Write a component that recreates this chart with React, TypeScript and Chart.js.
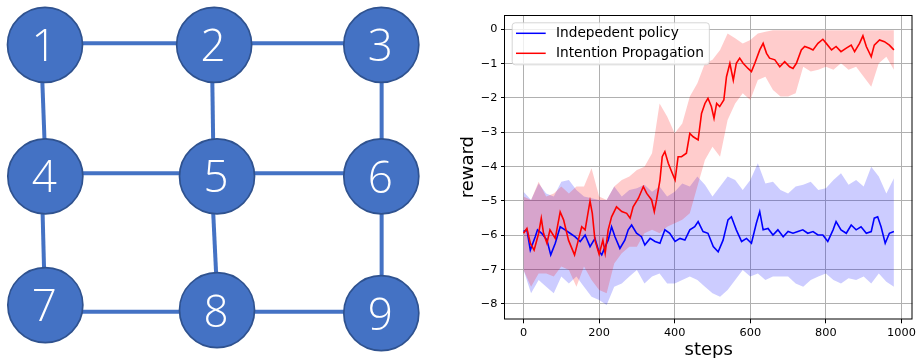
import React, { useEffect, useRef } from "react";
import { Chart, registerables } from "chart.js";

Chart.register(...registerables);

// ---------------- Left: grid graph ----------------
const nodeLabels = ["1", "2", "3", "4", "5", "6", "7", "8", "9"];
const nodeCol = [0, 1.006, 2, 0.002, 1.023, 2, 0.002, 1.023, 2];
const nodeRow = [0, 0, 0, 1, 1, 1, 1.979, 2.017, 2.04];
// edges: 1-2, 2-3, 1-4, 2-5, 3-6, 4-5, 5-6, 4-7, 5-8, 6-9, 7-8, 8-9
const edgeX1 = [0, 1.006, -0.024, 0.992, 2.002, 0, 1.023, -0.02, 0.99, 2.002, 0, 1.023];
const edgeY1 = [-0.011, -0.011, 0, 0, 0, 0.977, 0.977, 1, 1, 1, 2.03, 2.03];
const edgeX2 = [1.006, 2, 0.005, 1.003, 2.002, 1.023, 2, 0, 1.028, 2.002, 1.023, 2];
const edgeY2 = [-0.011, -0.011, 1, 1, 1, 0.977, 0.977, 1.979, 2.017, 2.04, 2.03, 2.03];

// ---------------- Right: reward curves ----------------
const seriesLabels = ["Indepedent policy", "Intention Propagation"];
const xTickValues = [0, 200, 400, 600, 800, 1000];
const xTickLabels = ["0", "200", "400", "600", "800", "1000"];
const yTickValues = [0, -1, -2, -3, -4, -5, -6, -7, -8];
const yTickLabels = ["0", "\u22121", "\u22122", "\u22123", "\u22124", "\u22125", "\u22126", "\u22127", "\u22128"];

const redSteps = [
  0, 9, 18, 28, 40, 47, 53, 62, 70, 84,
  97, 106, 119, 135, 145, 154, 163, 176, 182, 189,
  200, 210, 216, 224, 233, 246, 260, 273, 282, 290,
  304, 317, 326, 339, 346, 352, 361, 367, 374, 383,
  392, 401, 409, 418, 431, 440, 449, 462, 471, 480,
  488, 497, 504, 511, 519, 530, 537, 546, 555, 563,
  572, 581, 594, 603, 612, 625, 634, 643, 651, 665,
  678, 691, 704, 713, 722, 735, 744, 757, 766, 779,
  792, 801, 815, 827, 840, 854, 867, 876, 889, 898,
  907, 920, 928, 942, 955, 968, 980,
];
const redMean = [
  -5.94, -5.80, -6.23, -6.43, -5.94, -5.50, -5.94, -6.23, -5.84, -6.09,
  -5.32, -5.55, -6.14, -6.57, -6.14, -5.75, -5.84, -5.00, -5.36, -6.14,
  -6.55, -6.14, -6.52, -5.84, -5.46, -5.17, -5.31, -5.36, -5.50, -5.17,
  -4.92, -4.58, -4.78, -4.97, -5.31, -4.97, -4.39, -3.71, -3.56, -3.90,
  -4.15, -4.39, -3.71, -3.71, -3.61, -3.03, -3.13, -3.22, -2.45, -2.16,
  -2.01, -2.25, -2.59, -2.16, -2.25, -2.06, -1.38, -0.99, -1.48, -0.99,
  -0.84, -0.99, -1.14, -1.23, -0.99, -0.60, -0.41, -0.70, -0.84, -0.89,
  -1.09, -0.94, -1.09, -1.14, -0.99, -0.60, -0.50, -0.55, -0.60, -0.41,
  -0.29, -0.41, -0.60, -0.50, -0.65, -0.55, -0.46, -0.65, -0.41, -0.19,
  -0.50, -0.80, -0.46, -0.31, -0.36, -0.46, -0.60,
];

const blueSteps = [
  0, 9, 18, 31, 37, 48, 62, 72, 84, 97,
  110, 123, 136, 150, 163, 176, 189, 198, 207, 216,
  224, 233, 242, 255, 268, 277, 286, 299, 312, 321,
  335, 348, 361, 374, 387, 401, 414, 427, 440, 453,
  462, 475, 488, 502, 515, 528, 541, 550, 563, 577,
  590, 603, 616, 625, 634, 647, 660, 673, 687, 700,
  713, 726, 739, 752, 766, 779, 792, 805, 819, 827,
  840, 854, 867, 880, 893, 907, 920, 928, 937, 946,
  957, 968, 980,
];
const blueMean = [
  -5.89, -5.84, -6.43, -6.04, -5.84, -5.94, -6.14, -6.57, -6.23, -5.75,
  -5.84, -5.94, -6.04, -6.18, -5.99, -6.33, -6.09, -6.43, -6.57, -6.33,
  -6.14, -5.75, -6.04, -6.38, -6.14, -5.84, -5.70, -5.94, -6.04, -6.28,
  -6.09, -6.18, -6.23, -5.84, -5.94, -6.18, -6.09, -6.14, -5.84, -5.75,
  -5.60, -5.89, -5.94, -6.33, -6.48, -6.14, -5.55, -5.46, -5.84, -6.18,
  -6.09, -6.23, -5.65, -5.31, -5.84, -5.80, -5.99, -5.84, -6.04, -5.89,
  -5.94, -5.89, -5.84, -5.94, -5.89, -5.99, -5.99, -6.18, -5.84, -5.60,
  -5.84, -5.94, -5.70, -5.84, -5.75, -5.94, -5.89, -5.50, -5.46, -5.75,
  -6.23, -5.94, -5.89,
];

const bandSteps = [
  0, 20, 40, 60, 80, 100, 120, 140, 160, 180,
  200, 220, 240, 260, 280, 300, 320, 340, 360, 380,
  400, 420, 440, 460, 480, 500, 520, 540, 560, 580,
  600, 620, 640, 660, 680, 700, 720, 740, 760, 780,
  800, 820, 840, 860, 880, 900, 920, 940, 960, 980,
];
const blueUpper = [
  -4.73, -4.97, -4.49, -4.78, -4.87, -4.44, -4.39, -4.68, -4.87, -4.92,
  -4.97, -4.97, -4.58, -4.87, -4.68, -4.63, -4.53, -4.73, -4.58, -4.87,
  -4.73, -4.49, -4.58, -4.29, -4.53, -4.87, -4.58, -4.29, -4.39, -4.68,
  -4.39, -3.90, -4.49, -4.44, -4.68, -4.78, -4.58, -4.53, -4.44, -4.68,
  -4.63, -4.39, -4.19, -4.53, -4.39, -4.58, -4.00, -4.29, -4.78, -4.34,
];
const blueLower = [
  -7.01, -7.69, -7.30, -7.50, -7.69, -7.20, -7.40, -7.20, -7.50, -7.79,
  -7.88, -8.03, -7.50, -7.40, -7.20, -7.01, -7.40, -7.20, -7.11, -7.40,
  -7.40, -7.30, -7.20, -7.30, -7.50, -7.69, -7.79, -7.59, -7.30, -7.01,
  -7.20, -7.11, -7.30, -7.20, -7.20, -7.20, -7.40, -7.50, -7.30, -7.20,
  -7.11, -7.30, -7.40, -7.25, -7.30, -7.20, -7.40, -7.11, -7.35, -7.50,
];
const redUpper = [
  -4.87, -4.97, -4.44, -4.87, -4.78, -4.58, -4.78, -4.58, -4.58, -4.05,
  -4.87, -4.97, -4.58, -4.39, -4.29, -4.10, -4.00, -3.61, -2.16, -2.54,
  -3.03, -2.74, -1.96, -1.57, -0.99, -0.89, -0.60, -0.12, -0.26, -0.41,
  -0.31, -0.12, -0.07, -0.03, -0.03, -0.03, -0.03, -0.03, -0.03, -0.03,
  -0.03, -0.03, -0.03, -0.03, -0.03, -0.03, -0.03, -0.03, -0.03, -0.03,
];
const redLower = [
  -7.01, -7.50, -7.11, -7.11, -7.20, -6.91, -7.01, -7.50, -6.91, -7.30,
  -7.59, -7.69, -6.82, -6.52, -6.33, -6.33, -5.94, -5.84, -5.94, -5.75,
  -5.65, -5.55, -5.36, -4.58, -3.81, -3.42, -3.71, -2.64, -2.16, -1.86,
  -2.06, -1.48, -1.38, -1.77, -1.96, -1.96, -1.86, -1.09, -1.23, -1.18,
  -1.09, -1.18, -0.99, -1.18, -1.09, -1.38, -1.67, -0.99, -0.80, -1.18,
];

const pts = (xs: number[], ys: number[]) => xs.map((x, i) => ({ x, y: ys[i] }));

const FONT = "'DejaVu Sans', sans-serif";

const nodeLabelPlugin = {
  id: "nodeLabels",
  afterDatasetsDraw(chart: any) {
    const ctx = chart.ctx;
    const meta = chart.getDatasetMeta(0);
    ctx.save();
    ctx.fillStyle = "#ffffff";
    ctx.font = "300 44px 'Open Sans', 'Noto Sans', sans-serif";
    ctx.textAlign = "center";
    ctx.textBaseline = "alphabetic";
    meta.data.forEach((pt: any, i: number) => {
      const m = ctx.measureText(nodeLabels[i]);
      ctx.fillText(nodeLabels[i], pt.x - 1, pt.y + m.actualBoundingBoxAscent / 2);
    });
    ctx.restore();
  },
};

const framePlugin = {
  id: "frame",
  afterDatasetsDraw(chart: any) {
    const { left, top, right, bottom } = chart.chartArea;
    const ctx = chart.ctx;
    ctx.save();
    ctx.strokeStyle = "#000";
    ctx.lineWidth = 1;
    ctx.strokeRect(Math.round(left) - 0.5, Math.round(top) + 0.5, Math.round(right - left) + 0.5, Math.round(bottom - top) - 0.5);
    ctx.restore();
  },
};

const legendPlugin = {
  id: "innerLegend",
  afterDraw(chart: any) {
    const ctx = chart.ctx;
    const { left, top } = chart.chartArea;
    const items = chart.data.datasets.filter((d: any) => d.showInLegend);
    ctx.save();
    ctx.font = `13.7px ${FONT}`;
    const tw = Math.max(...items.map((d: any) => ctx.measureText(d.label).width));
    const x0 = left + 6.7;
    const y0 = top + 7.3;
    const w = 44.3 + tw + 5;
    const h = 42;
    ctx.beginPath();
    (ctx as any).roundRect(x0 + 0.5, y0 + 0.5, w, h, 3);
    ctx.fillStyle = "rgba(255,255,255,0.8)";
    ctx.fill();
    ctx.strokeStyle = "rgba(204,204,204,0.8)";
    ctx.lineWidth = 1;
    ctx.stroke();
    items.forEach((d: any, i: number) => {
      const y = y0 + 11 + 20 * i;
      ctx.beginPath();
      ctx.moveTo(x0 + 4.3, y);
      ctx.lineTo(x0 + 34, y);
      ctx.strokeStyle = d.borderColor;
      ctx.lineWidth = 1.5;
      ctx.stroke();
      ctx.fillStyle = "#000";
      ctx.textAlign = "left";
      ctx.textBaseline = "middle";
      ctx.fillText(d.label, x0 + 44.3, y + 0.5);
    });
    ctx.restore();
  },
};

function GraphChart() {
  const ref = useRef<HTMLCanvasElement>(null);
  useEffect(() => {
    if (!ref.current) return;
    const unitX = 168.15;
    const unitY = 131.5;
    const xMin = -45 / unitX;
    const yMin = -44.8 / unitY;
    const edgeSets = edgeX1.map((x1, i) => ({
      data: [
        { x: x1, y: edgeY1[i] },
        { x: edgeX2[i], y: edgeY2[i] },
      ],
      showLine: true,
      borderColor: "#4472C4",
      borderWidth: 4,
      pointRadius: 0,
      order: 1,
      clip: false as any,
    }));
    const chart = new Chart(ref.current, {
      type: "scatter",
      data: {
        datasets: [
          {
            data: pts(nodeCol, nodeRow),
            pointRadius: 37.5,
            pointBackgroundColor: "#4472C4",
            pointBorderColor: "#2F528F",
            pointBorderWidth: 1.7,
            order: 0,
            clip: false as any,
          } as any,
          ...edgeSets,
        ],
      },
      options: {
        responsive: false,
        animation: false,
        events: [],
        layout: { padding: 0, autoPadding: false },
        plugins: { legend: { display: false }, tooltip: { enabled: false } },
        scales: {
          x: { type: "linear", display: false, min: xMin, max: xMin + 460 / unitX },
          y: { type: "linear", display: false, reverse: true, min: yMin, max: yMin + 358 / unitY },
        },
      },
      plugins: [nodeLabelPlugin],
    });
    return () => chart.destroy();
  }, []);
  return <canvas ref={ref} width={460} height={358} style={{ position: "absolute", left: 0, top: 0 }} />;
}

function RewardChart() {
  const ref = useRef<HTMLCanvasElement>(null);
  useEffect(() => {
    if (!ref.current) return;
    const transparent = "rgba(0,0,0,0)";
    const chart = new Chart(ref.current, {
      type: "line",
      data: {
        datasets: [
          { label: "bu", data: pts(bandSteps, blueUpper), fill: "+1", backgroundColor: "rgba(0,0,255,0.2)", borderColor: transparent, borderWidth: 0, pointRadius: 0, order: 4 },
          { label: "bl", data: pts(bandSteps, blueLower), fill: false, borderColor: transparent, borderWidth: 0, pointRadius: 0, order: 5 },
          { label: "ru", data: pts(bandSteps, redUpper), fill: "+1", backgroundColor: "rgba(255,0,0,0.2)", borderColor: transparent, borderWidth: 0, pointRadius: 0, order: 2 },
          { label: "rl", data: pts(bandSteps, redLower), fill: false, borderColor: transparent, borderWidth: 0, pointRadius: 0, order: 3 },
          { label: seriesLabels[0], showInLegend: true, data: pts(blueSteps, blueMean), fill: false, borderColor: "#0000ff", borderWidth: 1.6, pointRadius: 0, order: 1 } as any,
          { label: seriesLabels[1], showInLegend: true, data: pts(redSteps, redMean), fill: false, borderColor: "#ff0000", borderWidth: 1.6, pointRadius: 0, order: 0 } as any,
        ],
      },
      options: {
        responsive: false,
        animation: false,
        events: [],
        layout: { padding: { left: 0, right: 5.7, top: 15, bottom: 0 } },
        plugins: { legend: { display: false }, tooltip: { enabled: false } },
        scales: {
          x: {
            type: "linear",
            min: -49,
            max: 1029,
            afterBuildTicks: (axis: any) => {
              axis.ticks = xTickValues.map((v) => ({ value: v }));
            },
            afterFit: (axis: any) => {
              axis.height = 38.7;
            },
            ticks: {
              autoSkip: false,
              maxRotation: 0,
              padding: 3,
              color: "#000",
              font: { family: FONT, size: 11.3 },
              callback: (_v: any, i: number) => xTickLabels[i],
            },
            grid: { color: "#b0b0b0", lineWidth: 1, drawTicks: true, tickLength: 4, tickColor: "#000" },
            border: { display: false },
            title: { display: true, text: "steps", color: "#000", padding: 0, font: { family: FONT, size: 18, lineHeight: 0.9 } },
          },
          y: {
            type: "linear",
            min: -8.4457,
            max: 0.4165,
            afterBuildTicks: (axis: any) => {
              axis.ticks = yTickValues.map((v) => ({ value: v }));
            },
            afterFit: (axis: any) => {
              axis.width = 45;
            },
            ticks: {
              autoSkip: false,
              padding: 3.5,
              color: "#000",
              font: { family: FONT, size: 11.3 },
              callback: (_v: any, i: number) => yTickLabels[i],
            },
            grid: { color: "#b0b0b0", lineWidth: 1, drawTicks: true, tickLength: 4, tickColor: "#000" },
            border: { display: false },
            title: { display: true, text: "reward", color: "#000", padding: 0, font: { family: FONT, size: 18, lineHeight: 0.9 } },
          },
        },
      },
      plugins: [framePlugin, legendPlugin],
    });
    return () => chart.destroy();
  }, []);
  return <canvas ref={ref} width={459} height={358} style={{ position: "absolute", left: 460, top: 0 }} />;
}

export default function App() {
  return (
    <div style={{ position: "fixed", left: 0, top: 0, width: 919, height: 358, background: "#fff", overflow: "hidden" }}>
      <GraphChart />
      <RewardChart />
    </div>
  );
}
